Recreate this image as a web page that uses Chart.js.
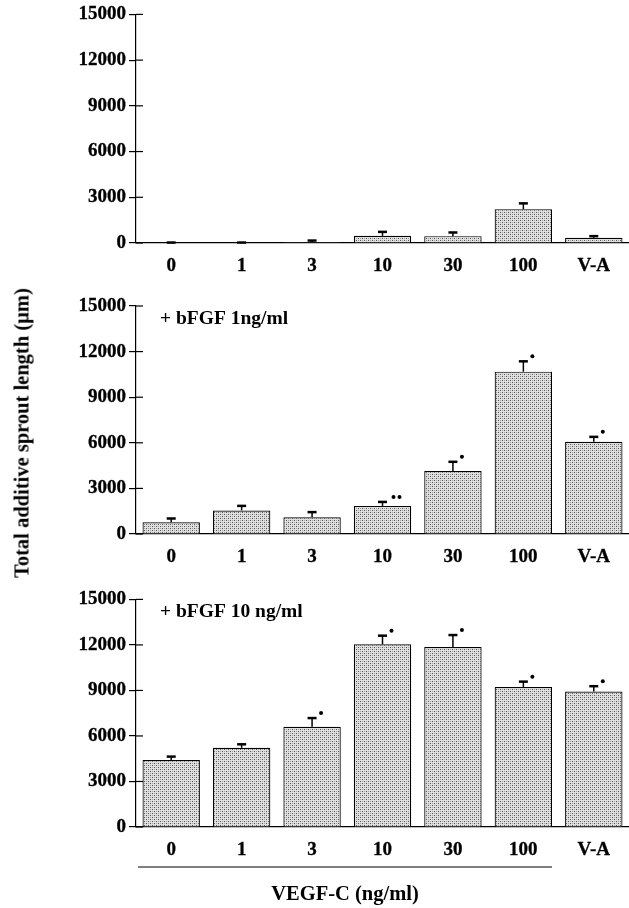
<!DOCTYPE html>
<html lang="en">

<head>
    <meta charset="UTF-8">
    <script src="https://cdn.jsdelivr.net/npm/chart.js"></script>
    <title>VEGF-C sprout length</title>
    <style>
        body { margin: 0; background: #fff; }
        .panel { position: absolute; left: 0; width: 629px; }
        #ytitle {
            position: absolute; left: 22px; top: 433px;
            transform: translate(-50%, -50%) rotate(-90deg);
            font: bold 20.5px 'Liberation Serif', 'Times New Roman', serif;
            white-space: nowrap; color: #000;
        }
    </style>
</head>

<body>
    <div class="panel" style="top:0; height:280px;"><canvas id="c1"></canvas></div>
    <div class="panel" style="top:290px; height:280px;"><canvas id="c2"></canvas></div>
    <div class="panel" style="top:585px; height:323px;"><canvas id="c3"></canvas></div>
    <div id="ytitle">Total additive sprout length (µm)</div>
    <script>
        const categories = ['0', '1', '3', '10', '30', '100', 'V-A'];
        const yTicks = [0, 3000, 6000, 9000, 12000, 15000];

        // VEGF-C alone
        const alone = [15, 15, 60, 470, 450, 2220, 340];
        const aloneErr = [15, 15, 100, 260, 240, 380, 110];
        const aloneSig = [0, 0, 0, 0, 0, 0, 0];

        // + bFGF 1 ng/ml
        const bfgf1 = [770, 1550, 1100, 1850, 4140, 10680, 6070];
        const bfgf1Err = [250, 300, 340, 260, 610, 680, 320];
        const bfgf1Sig = [0, 0, 0, 2, 1, 1, 1];

        // + bFGF 10 ng/ml
        const bfgf10 = [4420, 5220, 6610, 12040, 11860, 9230, 8930];
        const bfgf10Err = [220, 230, 570, 570, 790, 350, 350];
        const bfgf10Sig = [0, 0, 1, 1, 1, 1, 1];

        const serif = "'Liberation Serif', 'Times New Roman', serif";
        Chart.defaults.font.family = serif;
        Chart.defaults.font.weight = 'bold';
        Chart.defaults.font.size = 19;
        Chart.defaults.color = '#000';

        // stippled grey fill like the printed figure
        function stipple() {
            const c = document.createElement('canvas');
            c.width = 4; c.height = 4;
            const g = c.getContext('2d');
            g.fillStyle = '#e0e0e0';
            g.fillRect(0, 0, 4, 4);
            g.fillStyle = '#555';
            g.fillRect(0, 0, 1, 1);
            g.fillRect(2, 2, 1, 1);
            g.fillStyle = '#a0a0a0';
            g.fillRect(2, 0, 1, 1);
            g.fillRect(0, 2, 1, 1);
            return g.createPattern(c, 'repeat');
        }
        const fill = stipple();

        // error bars, significance dots, inner tick halves, notes, bracket
        const extras = {
            id: 'extras',
            afterDatasetsDraw(chart, args, opts) {
                const ctx = chart.ctx;
                const y = chart.scales.y;
                const area = chart.chartArea;
                const bars = chart.getDatasetMeta(0).data;
                const vals = chart.data.datasets[0].data;
                ctx.save();
                ctx.strokeStyle = '#000';
                ctx.fillStyle = '#000';
                bars.forEach((bar, i) => {
                    const top = y.getPixelForValue(vals[i] + opts.err[i]);
                    ctx.lineWidth = 1.5;
                    ctx.beginPath();
                    ctx.moveTo(bar.x, bar.y);
                    ctx.lineTo(bar.x, top);
                    ctx.stroke();
                    ctx.lineWidth = 2.5;
                    ctx.beginPath();
                    ctx.moveTo(bar.x - 4.5, top);
                    ctx.lineTo(bar.x + 4.5, top);
                    ctx.stroke();
                    for (let k = 0; k < opts.sig[i]; k++) {
                        const dx = opts.sig[i] > 1 ? 11 + k * 6 : 9;
                        ctx.beginPath();
                        ctx.arc(bar.x + dx, top - 5, 2, 0, Math.PI * 2);
                        ctx.fill();
                    }
                });
                // tick marks cross the axis
                ctx.lineWidth = 1.2;
                y.ticks.forEach(t => {
                    const py = y.getPixelForValue(t.value);
                    ctx.beginPath();
                    ctx.moveTo(area.left, py);
                    ctx.lineTo(area.left + 7, py);
                    ctx.stroke();
                });
                if (opts.note) {
                    ctx.font = 'bold 19.5px ' + serif;
                    ctx.textBaseline = 'middle';
                    ctx.textAlign = 'left';
                    ctx.fillText(opts.note, 160, area.top + 13);
                }
                if (opts.bracket) {
                    const last = bars[5];
                    const x0 = area.left + 2;
                    const x1 = last.x + last.width / 2;
                    ctx.lineWidth = 1.2;
                    ctx.beginPath();
                    ctx.moveTo(x0, area.bottom + 40);
                    ctx.lineTo(x1, area.bottom + 40);
                    ctx.stroke();
                    ctx.font = 'bold 20.5px ' + serif;
                    ctx.textAlign = 'center';
                    ctx.textBaseline = 'middle';
                    ctx.fillText(opts.bracket, (x0 + x1) / 2, area.bottom + 68);
                }
                ctx.restore();
            }
        };

        function panel(id, values, err, sig, note, padTop, xHeight, bracket) {
            return new Chart(document.getElementById(id), {
                type: 'bar',
                data: {
                    labels: categories,
                    datasets: [{
                        data: values,
                        backgroundColor: fill,
                        borderColor: '#000',
                        borderWidth: 1.2,
                        borderSkipped: 'bottom',
                        barPercentage: 0.815,
                        categoryPercentage: 1
                    }]
                },
                plugins: [extras],
                options: {
                    responsive: true,
                    maintainAspectRatio: false,
                    animation: false,
                    layout: { padding: { top: padTop, right: 0, left: 0, bottom: 0 } },
                    plugins: {
                        legend: { display: false },
                        tooltip: { enabled: false },
                        extras: { err: err, sig: sig, note: note, bracket: bracket }
                    },
                    scales: {
                        x: {
                            grid: { display: false },
                            border: { display: true, color: '#000', width: 1.2 },
                            ticks: { padding: 4, maxRotation: 0, textStrokeColor: '#000', textStrokeWidth: 0.3 },
                            afterFit: s => { s.height = xHeight; }
                        },
                        y: {
                            min: yTicks[0],
                            max: yTicks[yTicks.length - 1],
                            ticks: {
                                stepSize: yTicks[1] - yTicks[0],
                                padding: 3,
                                textStrokeColor: '#000',
                                textStrokeWidth: 0.3,
                                callback: v => String(v)
                            },
                            grid: { drawOnChartArea: false, tickLength: 7, color: '#000', lineWidth: 1.2 },
                            border: { display: true, color: '#000', width: 1.2 },
                            afterFit: s => { s.width = 136; }
                        }
                    }
                }
            });
        }

        panel('c1', alone, aloneErr, aloneSig, null, 14, 37, null);
        panel('c2', bfgf1, bfgf1Err, bfgf1Sig, '+ bFGF 1ng/ml', 16, 36, null);
        panel('c3', bfgf10, bfgf10Err, bfgf10Sig, '+ bFGF 10 ng/ml', 14, 81, 'VEGF-C (ng/ml)');
    </script>
</body>

</html>
